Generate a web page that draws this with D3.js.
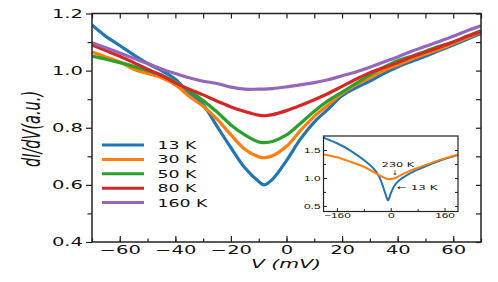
<!DOCTYPE html>
<html>
<head>
<meta charset="utf-8">
<script src="https://cdn.jsdelivr.net/npm/d3@7"></script>
<style>
  body { margin: 0; background: #fff; }
  svg { display: block; font-family: "DejaVu Sans", sans-serif; }
</style>
</head>
<body>
<svg id="chart" width="498" height="282"></svg>
<script>
// bias voltage (mV) shared by the main curves
var voltage = [-70,-65,-60,-55,-50,-45,-40,-35,-30,-25,-20,-15,-10,-8,-5,0,5,10,15,20,25,30,35,40,45,50,55,60,65,70];
var k13  = [1.16,1.12,1.088,1.055,1.025,1.0,0.97,0.92,0.88,0.805,0.73,0.66,0.612,0.600,0.62,0.685,0.76,0.82,0.865,0.912,0.94,0.963,0.99,1.013,1.032,1.05,1.07,1.09,1.11,1.13];
var k30  = [1.065,1.048,1.03,1.005,0.99,0.975,0.95,0.91,0.875,0.83,0.775,0.725,0.698,0.695,0.702,0.735,0.79,0.84,0.88,0.92,0.95,0.975,1.0,1.02,1.04,1.058,1.075,1.095,1.115,1.135];
var k50  = [1.051,1.04,1.028,1.015,1.0,0.985,0.96,0.93,0.895,0.855,0.81,0.775,0.75,0.748,0.752,0.775,0.815,0.858,0.895,0.925,0.955,0.985,1.012,1.035,1.05,1.068,1.085,1.1,1.12,1.14];
var k80  = [1.09,1.07,1.05,1.028,1.005,0.983,0.957,0.935,0.915,0.893,0.873,0.857,0.844,0.842,0.846,0.86,0.878,0.898,0.92,0.945,0.97,0.993,1.01,1.028,1.048,1.065,1.082,1.1,1.12,1.137];
var k160 = [1.098,1.08,1.062,1.043,1.025,1.006,0.99,0.975,0.963,0.955,0.942,0.935,0.935,0.935,0.937,0.943,0.95,0.958,0.968,0.982,0.995,1.012,1.03,1.048,1.068,1.085,1.102,1.12,1.14,1.157];
var seriesNames = ["13 K", "30 K", "50 K", "80 K", "160 K"];
var colors = ["#1f77b4", "#ff7f0e", "#2ca02c", "#d62728", "#9467bd"];

// inset: wide range
var insetV   = [-200,-160,-120,-80,-50,-35,-25,-15,-8,0,10,20,40,60,80,120,160,200];
var inset13  = [1.72,1.62,1.49,1.32,1.16,1.03,0.88,0.7,0.6,0.72,0.85,0.93,1.02,1.09,1.15,1.25,1.34,1.41];
var inset230 = [1.42,1.37,1.29,1.2,1.1,1.05,1.02,0.99,0.98,0.98,0.99,1.02,1.08,1.135,1.18,1.27,1.35,1.42];

var xTicks = [-60,-40,-20,0,20,40,60];
var yTicks = [0.4,0.6,0.8,1.0,1.2];
var insetXTicks = [-160,0,160];
var insetYTicks = [0.5,1.0,1.5];

var SX = 1.7; // the figure is stretched horizontally
var ink = "#222";

var svg = d3.select("#chart");
var pL = 92, pR = 481, pT = 13.5, pB = 242;

var x = d3.scaleLinear().domain([-70, 70]).range([pL, pR]);
var y = d3.scaleLinear().domain([0.4, 1.2]).range([pB, pT]);

svg.append("clipPath").attr("id", "clipMain")
    .append("rect").attr("x", pL).attr("y", pT)
    .attr("width", pR - pL).attr("height", pB - pT);

var line = d3.line().curve(d3.curveCatmullRom)
    .x(function(d) { return x(d[0]); })
    .y(function(d) { return y(d[1]); });

var allSeries = [k13, k30, k50, k80, k160];
svg.append("g").attr("clip-path", "url(#clipMain)")
    .selectAll("path")
    .data(allSeries)
    .join("path")
    .attr("d", function(s) { return line(s.map(function(v, i) { return [voltage[i], v]; })); })
    .attr("fill", "none")
    .attr("stroke", function(s, i) { return colors[i]; })
    .attr("stroke-width", 3.2)
    .attr("stroke-linejoin", "round");

// axes: tick lines through d3, labels stretched like the original
function stretchLabels(g) {
  g.selectAll(".tick text").each(function() {
    var t = d3.select(this);
    var xx = +t.attr("x") || 0;
    t.attr("x", xx / SX).attr("transform", "scale(" + SX + ",1)");
  });
}

svg.append("g").attr("transform", "translate(0," + pB + ")")
    .call(d3.axisBottom(x).tickValues(xTicks).tickSize(-6).tickPadding(4).tickFormat(d3.format("d")))
    .call(stretchLabels);
svg.append("g").attr("transform", "translate(0," + pB + ")")
    .call(d3.axisBottom(x).tickValues(d3.range(-70, 71, 10)).tickSize(-3.5).tickFormat(""));
svg.append("g").attr("transform", "translate(0," + pT + ")")
    .call(d3.axisTop(x).tickValues(d3.range(-70, 71, 10)).tickSize(-5).tickFormat(""));

svg.append("g").attr("transform", "translate(" + pL + ",0)")
    .call(d3.axisLeft(y).tickValues(yTicks).tickSize(6).tickPadding(3).tickFormat(d3.format(".1f")))
    .call(stretchLabels);
svg.append("g").attr("transform", "translate(" + pL + ",0)")
    .call(d3.axisLeft(y).tickValues([0.5,0.7,0.9,1.1]).tickSize(4.5).tickFormat(""));
svg.append("g").attr("transform", "translate(" + pR + ",0)")
    .call(d3.axisRight(y).tickValues(d3.range(0.4, 1.21, 0.1)).tickSize(-5).tickFormat(""));

svg.selectAll(".domain").remove();
svg.selectAll(".tick line").attr("stroke", ink).attr("stroke-width", 1.2);
svg.selectAll(".tick text").attr("font-size", 11.5).attr("fill", "#111")
    .attr("font-family", "DejaVu Sans");

svg.append("rect").attr("x", pL).attr("y", pT)
    .attr("width", pR - pL).attr("height", pB - pT)
    .attr("fill", "none").attr("stroke", ink).attr("stroke-width", 1.5);

// axis titles
svg.append("text")
    .attr("transform", "translate(286,268) scale(" + SX + ",1)")
    .attr("text-anchor", "middle").attr("font-size", 12).attr("font-style", "italic")
    .attr("fill", "#111").text("V (mV)");
svg.append("text")
    .attr("transform", "translate(40,129) scale(" + SX + ",1) rotate(-90)")
    .attr("text-anchor", "middle").attr("font-size", 14.5).attr("font-style", "italic")
    .attr("fill", "#111").text("dI/dV(a.u.)");

// legend
var legend = svg.append("g").selectAll("g")
    .data(seriesNames)
    .join("g")
    .attr("transform", function(d, i) { return "translate(0," + (145 + i * 14.4) + ")"; });
legend.append("line")
    .attr("x1", 102).attr("x2", 144)
    .attr("stroke", function(d, i) { return colors[i]; })
    .attr("stroke-width", 3);
legend.append("text")
    .attr("transform", "translate(157.5,4) scale(" + SX + ",1)")
    .attr("font-size", 10.2).attr("fill", "#111")
    .text(function(d) { return d; });

// inset
var iL = 323.5, iR = 458, iT = 136, iB = 211.5;
var ix = d3.scaleLinear().domain([-200, 200]).range([iL, iR]);
var iy = d3.scaleLinear().domain([0.4, 1.75]).range([iB, iT]);
var inset = svg.append("g");
inset.append("rect").attr("x", iL).attr("y", iT)
    .attr("width", iR - iL).attr("height", iB - iT).attr("fill", "#fff");
svg.append("clipPath").attr("id", "clipInset")
    .append("rect").attr("x", iL).attr("y", iT)
    .attr("width", iR - iL).attr("height", iB - iT);

var iline = d3.line().curve(d3.curveCatmullRom)
    .x(function(d) { return ix(d[0]); })
    .y(function(d) { return iy(d[1]); });
inset.append("g").attr("clip-path", "url(#clipInset)")
    .selectAll("path")
    .data([inset13, inset230])
    .join("path")
    .attr("d", function(s) { return iline(s.map(function(v, i) { return [insetV[i], v]; })); })
    .attr("fill", "none")
    .attr("stroke", function(s, i) { return i === 0 ? colors[0] : colors[1]; })
    .attr("stroke-width", 2);

var ia = inset.append("g");
ia.append("g").attr("transform", "translate(0," + iB + ")")
    .call(d3.axisBottom(ix).tickValues(insetXTicks).tickSize(-3.5).tickPadding(2).tickFormat(d3.format("d")))
    .call(stretchLabels);
ia.append("g").attr("transform", "translate(0," + iB + ")")
    .call(d3.axisBottom(ix).tickValues([-80, 80]).tickSize(-2.5).tickFormat(""));
ia.append("g").attr("transform", "translate(" + iL + ",0)")
    .call(d3.axisLeft(iy).tickValues(insetYTicks).tickSize(-3.5).tickPadding(3).tickFormat(d3.format(".1f")))
    .call(stretchLabels);
ia.append("g").attr("transform", "translate(" + iL + ",0)")
    .call(d3.axisLeft(iy).tickValues([0.75, 1.25]).tickSize(-2.5).tickFormat(""));
ia.append("g").attr("transform", "translate(" + iR + ",0)")
    .call(d3.axisRight(iy).tickValues([0.5, 0.75, 1.0, 1.25, 1.5]).tickSize(-3).tickFormat(""));
ia.selectAll(".domain").remove();
ia.selectAll(".tick line").attr("stroke", ink).attr("stroke-width", 1);
ia.selectAll(".tick text").attr("font-size", 7).attr("fill", "#111");

inset.append("rect").attr("x", iL).attr("y", iT)
    .attr("width", iR - iL).attr("height", iB - iT)
    .attr("fill", "none").attr("stroke", ink).attr("stroke-width", 1.2);

// annotations
inset.append("text")
    .attr("transform", "translate(398,167) scale(" + SX + ",1)")
    .attr("text-anchor", "middle").attr("font-size", 6.6).attr("fill", "#111")
    .text("230 K");
inset.append("text")
    .attr("transform", "translate(395,174.5)")
    .attr("text-anchor", "middle").attr("font-size", 7).attr("fill", "#111")
    .text("↓");
inset.append("text")
    .attr("transform", "translate(397,189.5) scale(" + SX + ",1)")
    .attr("font-size", 7).attr("fill", "#111")
    .text("← 13 K");
</script>
</body>
</html>
